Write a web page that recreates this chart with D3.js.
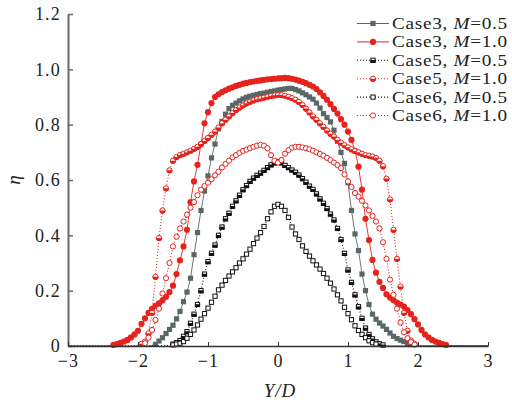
<!DOCTYPE html>
<html>
<head>
<meta charset="utf-8">
<script src="https://cdn.jsdelivr.net/npm/d3@7"></script>
<style>
body { margin: 0; background: #fff; }
text { font-family: "Liberation Serif", "Times New Roman", serif; fill: #222; }
</style>
</head>
<body>
<svg id="chart" width="512" height="403"></svg>
<script>
// Y/D sample positions
var yd = [-3,
  -2.5, -2.45, -2.4, -2.35, -2.3, -2.25, -2.2, -2.15, -2.1, -2.05,
  -2, -1.95, -1.9, -1.85, -1.8, -1.75, -1.7, -1.65, -1.6, -1.55,
  -1.5, -1.45, -1.4, -1.35, -1.3, -1.25, -1.2, -1.15, -1.1, -1.05,
  -1, -0.95, -0.9, -0.85, -0.8, -0.75, -0.7, -0.65, -0.6, -0.55,
  -0.5, -0.45, -0.4, -0.35, -0.3, -0.25, -0.2, -0.15, -0.1, -0.05,
  0,
  0.05, 0.1, 0.15, 0.2, 0.25, 0.3, 0.35, 0.4, 0.45, 0.5,
  0.55, 0.6, 0.65, 0.7, 0.75, 0.8, 0.85, 0.9, 0.95, 1,
  1.05, 1.1, 1.15, 1.2, 1.25, 1.3, 1.35, 1.4, 1.45, 1.5,
  1.55, 1.6, 1.65, 1.7, 1.75, 1.8, 1.85, 1.9, 1.95, 2,
  2.05, 2.1, 2.15, 2.2, 2.25, 2.3, 2.35, 2.4, 2.45, 2.5,
  3];

var case3_m05 = [0,
  0, 0, 0, 0, 0, 0, 0, 0, 0, 0,
  0, 0, 0, 0, 0.002, 0.006, 0.018, 0.03, 0.045, 0.06,
  0.075, 0.098, 0.125, 0.16, 0.195, 0.245, 0.33, 0.41, 0.49, 0.56,
  0.615, 0.68, 0.73, 0.785, 0.812, 0.838, 0.858, 0.87, 0.878, 0.886,
  0.893, 0.899, 0.903, 0.906, 0.909, 0.912, 0.914, 0.917, 0.92, 0.922,
  0.925,
  0.927, 0.929, 0.931, 0.931, 0.927, 0.922, 0.915, 0.908, 0.9, 0.892,
  0.878, 0.86, 0.84, 0.826, 0.81, 0.78, 0.74, 0.7, 0.66, 0.59,
  0.49, 0.405, 0.345, 0.26, 0.2, 0.15, 0.115, 0.097, 0.083, 0.072,
  0.06, 0.047, 0.035, 0.027, 0.021, 0.016, 0.01, 0.005, 0.002, 0,
  0, 0, 0, 0, 0, 0, 0, 0, 0, 0,
  0];

var case3_m10 = [0,
  0, 0, 0.002, 0.004, 0.007, 0.011, 0.016, 0.022, 0.031, 0.042,
  0.055, 0.08, 0.1, 0.12, 0.134, 0.145, 0.154, 0.165, 0.178, 0.195,
  0.218, 0.26, 0.31, 0.36, 0.42, 0.52, 0.595, 0.655, 0.73, 0.805,
  0.845, 0.878, 0.9, 0.91, 0.918, 0.924, 0.93, 0.935, 0.94, 0.944,
  0.948, 0.951, 0.954, 0.956, 0.958, 0.96, 0.962, 0.964, 0.965, 0.966,
  0.967,
  0.968, 0.969, 0.968, 0.966, 0.963, 0.959, 0.955, 0.95, 0.944, 0.938,
  0.929, 0.917, 0.904, 0.89, 0.874, 0.857, 0.84, 0.82, 0.8, 0.775,
  0.745, 0.705, 0.648, 0.565, 0.46, 0.383, 0.311, 0.265, 0.232, 0.21,
  0.187, 0.175, 0.165, 0.157, 0.15, 0.142, 0.13, 0.115, 0.097, 0.078,
  0.058, 0.042, 0.031, 0.022, 0.016, 0.011, 0.007, 0.004, 0.002, 0,
  0];

var case5_m05 = [0,
  0, 0, 0, 0, 0, 0, 0, 0, 0, 0,
  0, 0, 0, 0, 0, 0, 0, 0, 0, 0.003,
  0.007, 0.012, 0.02, 0.035, 0.052, 0.082, 0.115, 0.15, 0.2, 0.26,
  0.305, 0.335, 0.365, 0.4, 0.43, 0.46, 0.48, 0.505, 0.525, 0.545,
  0.565, 0.58, 0.595, 0.607, 0.617, 0.625, 0.635, 0.645, 0.655, 0.662,
  0.667,
  0.662, 0.653, 0.645, 0.636, 0.628, 0.618, 0.605, 0.592, 0.578, 0.566,
  0.55, 0.532, 0.516, 0.497, 0.477, 0.456, 0.425, 0.385, 0.335, 0.275,
  0.23, 0.185, 0.142, 0.1, 0.065, 0.042, 0.026, 0.015, 0.008, 0.004,
  0.001, 0, 0, 0, 0, 0, 0, 0, 0, 0,
  0, 0, 0, 0, 0, 0, 0, 0, 0, 0,
  0];

var case5_m10 = [0,
  0, 0, 0, 0, 0, 0, 0, 0, 0, 0,
  0.002, 0.008, 0.016, 0.046, 0.12, 0.25, 0.39, 0.49, 0.57, 0.635,
  0.67, 0.683, 0.69, 0.695, 0.7, 0.706, 0.713, 0.72, 0.73, 0.741,
  0.752, 0.764, 0.775, 0.79, 0.805, 0.818, 0.83, 0.842, 0.853, 0.862,
  0.87, 0.877, 0.883, 0.888, 0.892, 0.895, 0.898, 0.901, 0.904, 0.906,
  0.907,
  0.907, 0.905, 0.901, 0.896, 0.89, 0.882, 0.871, 0.858, 0.844, 0.83,
  0.818, 0.805, 0.792, 0.779, 0.767, 0.757, 0.745, 0.735, 0.726, 0.718,
  0.711, 0.705, 0.7, 0.695, 0.69, 0.688, 0.685, 0.68, 0.67, 0.65,
  0.605, 0.53, 0.42, 0.315, 0.215, 0.12, 0.055, 0.02, 0.008, 0.002,
  0, 0, 0, 0, 0, 0, 0, 0, 0, 0,
  0];

var case6_m05 = [0,
  0, 0, 0, 0, 0, 0, 0, 0, 0, 0,
  0, 0, 0, 0, 0, 0, 0, 0, 0, 0.002,
  0.004, 0.007, 0.01, 0.016, 0.028, 0.042, 0.058, 0.076, 0.097, 0.117,
  0.137, 0.158, 0.18, 0.203, 0.22, 0.237, 0.253, 0.268, 0.283, 0.3,
  0.315, 0.332, 0.35, 0.37, 0.39, 0.41, 0.432, 0.46, 0.485, 0.505,
  0.512,
  0.505, 0.49, 0.465, 0.43, 0.405, 0.385, 0.362, 0.342, 0.325, 0.308,
  0.293, 0.278, 0.262, 0.245, 0.227, 0.206, 0.185, 0.163, 0.14, 0.117,
  0.095, 0.073, 0.056, 0.042, 0.03, 0.019, 0.012, 0.007, 0.003, 0.001,
  0, 0, 0, 0, 0, 0, 0, 0, 0, 0,
  0, 0, 0, 0, 0, 0, 0, 0, 0, 0,
  0];

var case6_m10 = [0,
  0, 0, 0, 0, 0, 0, 0, 0, 0, 0,
  0, 0.003, 0.01, 0.03, 0.058, 0.094, 0.135, 0.19, 0.245, 0.3,
  0.36, 0.395, 0.425, 0.45, 0.475, 0.5, 0.52, 0.545, 0.565, 0.578,
  0.59, 0.603, 0.617, 0.63, 0.645, 0.658, 0.67, 0.682, 0.69, 0.698,
  0.705, 0.71, 0.715, 0.72, 0.724, 0.727, 0.724, 0.715, 0.69, 0.67,
  0.663,
  0.672, 0.695, 0.708, 0.717, 0.72, 0.72, 0.718, 0.715, 0.711, 0.706,
  0.7, 0.694, 0.688, 0.68, 0.672, 0.663, 0.654, 0.643, 0.62, 0.595,
  0.575, 0.553, 0.54, 0.525, 0.508, 0.49, 0.47, 0.45, 0.425, 0.375,
  0.315, 0.24, 0.185, 0.135, 0.085, 0.05, 0.028, 0.014, 0.005, 0.001,
  0, 0, 0, 0, 0, 0, 0, 0, 0, 0,
  0];

var caseNames = ["Case3", "Case3", "Case5", "Case5", "Case6", "Case6"];
var mValues = ["0.5", "1.0", "0.5", "1.0", "0.5", "1.0"];
var xTicks = [-3, -2, -1, 0, 1, 2, 3];
var yTicks = [0, 0.2, 0.4, 0.6, 0.8, 1.0, 1.2];

var red = "#e5231d";
var series = [
  {vals: case3_m05, color: "#5b6666", dash: null, mark: "sqFill"},
  {vals: case3_m10, color: red, dash: null, mark: "ciFill"},
  {vals: case5_m05, color: "#111", dash: "1,2", mark: "sqHalf"},
  {vals: case5_m10, color: red, dash: "1,2", mark: "ciHalf"},
  {vals: case6_m05, color: "#111", dash: "1,2", mark: "sqOpen"},
  {vals: case6_m10, color: red, dash: "1,2", mark: "ciOpen"}
];

var svg = d3.select("#chart");
var x = d3.scaleLinear().domain([-3, 3]).range([68, 488]);
var y = d3.scaleLinear().domain([0, 1.2]).range([346, 14]);

function drawMarker(g, type, color, cx, cy) {
  var s = 2.6, r = 3.1;
  if (type == "sqFill") {
    g.append("rect").attr("x", cx - s).attr("y", cy - s).attr("width", 2 * s).attr("height", 2 * s)
      .attr("fill", color);
  } else if (type == "sqHalf" || type == "sqOpen") {
    g.append("rect").attr("x", cx - s + 0.5).attr("y", cy - s + 0.5).attr("width", 2 * s - 1).attr("height", 2 * s - 1)
      .attr("fill", "#fff").attr("stroke", color).attr("stroke-width", 1);
    if (type == "sqHalf") {
      g.append("rect").attr("x", cx - s).attr("y", cy - 0.3).attr("width", 2 * s).attr("height", s + 0.3)
        .attr("fill", color);
    }
  } else if (type == "ciFill") {
    g.append("circle").attr("cx", cx).attr("cy", cy).attr("r", r).attr("fill", color);
  } else {
    g.append("circle").attr("cx", cx).attr("cy", cy).attr("r", r - 0.5)
      .attr("fill", "#fff").attr("stroke", color).attr("stroke-width", 1);
    if (type == "ciHalf") {
      g.append("path")
        .attr("d", "M" + (cx - r) + "," + cy + " A" + r + " " + r + " 0 0 0 " + (cx + r) + "," + cy + " Z")
        .attr("fill", color);
    }
  }
}

// axes
var yAxis = d3.axisLeft(y).tickValues(yTicks).tickSize(-5).tickSizeOuter(0).tickPadding(7)
  .tickFormat(function(d){ return d == 0 ? "0" : d3.format(".1f")(d); });
var gy = svg.append("g").attr("transform", "translate(68,0)").call(yAxis);
gy.select(".domain").attr("stroke", "#6a6a6a").attr("stroke-width", 2);
gy.selectAll(".tick line").attr("stroke", "#6a6a6a").attr("stroke-width", 1.5);
gy.selectAll("text").attr("font-size", 18).attr("letter-spacing", 1.2).attr("fill", "#333")
  .attr("font-family", "Liberation Serif");

var xAxis = d3.axisBottom(x).tickValues(xTicks).tickSize(-4).tickSizeOuter(0).tickPadding(8)
  .tickFormat(d3.format("d"));

// curves
series.forEach(function(s) {
  var pts = yd.map(function(v, i){ return [v, s.vals[i]]; });
  svg.append("path").datum(pts)
    .attr("fill", "none").attr("stroke", s.color).attr("stroke-width", s.dash ? 1.1 : 0.9)
    .attr("stroke-dasharray", s.dash)
    .attr("d", d3.line().x(function(d){ return x(d[0]); }).y(function(d){ return y(d[1]); }));
  var g = svg.append("g");
  pts.forEach(function(p) {
    if (p[1] > 0.003) drawMarker(g, s.mark, s.color, x(p[0]), y(p[1]));
  });
});

var gx = svg.append("g").attr("transform", "translate(0,346)").call(xAxis);
gx.select(".domain").attr("stroke", "#333").attr("stroke-width", 1.5);
gx.selectAll(".tick line").attr("stroke", "#333").attr("stroke-width", 1);
gx.selectAll("text").attr("font-size", 18).attr("letter-spacing", 1.2).attr("fill", "#333")
  .attr("font-family", "Liberation Serif");

// axis titles
svg.append("text").attr("x", 280).attr("y", 397).attr("text-anchor", "middle")
  .attr("font-size", 19).attr("font-style", "italic").attr("letter-spacing", 1)
  .text("Y/D");
svg.append("text").attr("transform", "translate(20,180) rotate(-90)").attr("text-anchor", "middle")
  .attr("font-size", 19).attr("font-style", "italic").text("η");

// legend (glyphs stretched sideways so rows stay 18px apart)
var leg = svg.append("g");
series.forEach(function(s, i) {
  var ly = 23.5 + i * 18.4;
  leg.append("line").attr("x1", 357).attr("x2", 389).attr("y1", ly).attr("y2", ly)
    .attr("stroke", s.color).attr("stroke-width", s.dash ? 1.1 : 1).attr("stroke-dasharray", s.dash);
  drawMarker(leg, s.mark, s.color, 373, ly);
  var t = leg.append("text").attr("transform", "translate(392," + (ly + 5.5) + ") scale(1.2,1)")
    .attr("font-size", 16).attr("letter-spacing", 0.6);
  t.append("tspan").text(caseNames[i] + ", ");
  t.append("tspan").attr("font-style", "italic").text("M");
  t.append("tspan").text("=" + mValues[i]);
});
</script>
</body>
</html>
